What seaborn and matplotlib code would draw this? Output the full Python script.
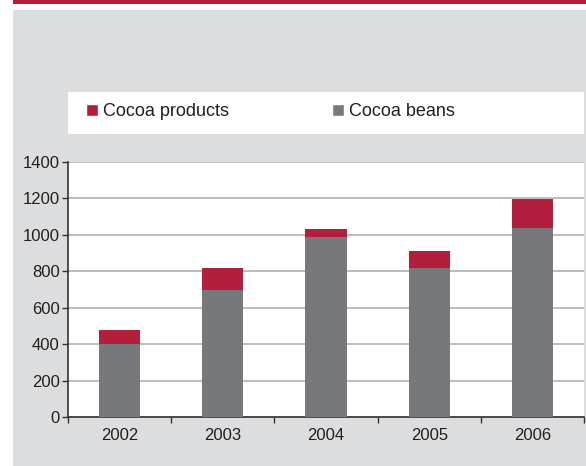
import matplotlib.pyplot as plt
from matplotlib.patches import Rectangle, Patch
from matplotlib import font_manager
import numpy as np
import pandas as pd
import seaborn as sns

years = ['2002', '2003', '2004', '2005', '2006']
cocoa_beans = [400, 700, 990, 820, 1040]
cocoa_products = [80, 120, 40, 90, 155]
yticks = [0, 200, 400, 600, 800, 1000, 1200, 1400]

RED = '#B21E3B'
GREY = '#77787B'
BG = '#DCDDDF'

names = {f.name for f in font_manager.fontManager.ttflist}
narrow = 'Liberation Sans Narrow' if 'Liberation Sans Narrow' in names else 'Liberation Sans'

sns.set_style('ticks')
plt.rcParams['font.family'] = ['Liberation Sans', 'DejaVu Sans']

df = pd.DataFrame({'year': years, 'beans': cocoa_beans, 'products': cocoa_products})
df['total'] = df['beans'] + df['products']

fig = plt.figure(figsize=(5.86, 4.66), dpi=100)
fig.patch.set_facecolor('white')
W, H = 586, 466
# grey panel and red top rule
fig.patches.append(Rectangle((13 / W, 0), 1 - 13 / W, (H - 10) / H, transform=fig.transFigure,
                             facecolor=BG, edgecolor='none', zorder=-2))
fig.patches.append(Rectangle((13 / W, (H - 3.5) / H), 1 - 13 / W, 3.5 / H, transform=fig.transFigure,
                             facecolor=RED, edgecolor='none', zorder=-2))
# white legend band
fig.patches.append(Rectangle((68 / W, (H - 134) / H), (584 - 68) / W, 42 / H, transform=fig.transFigure,
                             facecolor='white', edgecolor='none', zorder=-1))

ax = fig.add_axes([68 / W, (H - 417) / H, (584 - 68) / W, (417 - 162) / H])
ax.set_zorder(2)
ax.set_facecolor('white')
sns.barplot(data=df, x='year', y='total', color=RED, width=0.4, saturation=1, ax=ax, zorder=3)
sns.barplot(data=df, x='year', y='beans', color=GREY, width=0.4, saturation=1, ax=ax, zorder=3)
for p in ax.patches:
    p.set_edgecolor('none')

ax.set_xlim(-0.5, 4.5)
ax.set_ylim(0, 1400)
ax.set_yticks(yticks)
ax.yaxis.grid(True, color='#BDBDBD', linewidth=1.4, zorder=0)
ax.set_axisbelow(True)
ax.set_xticks(np.arange(-0.5, 5, 1), minor=False)
ax.set_xticklabels([])
ax.set_xticks(range(len(years)), minor=True)
ax.set_xticklabels(years, minor=True)
ax.tick_params(axis='x', which='minor', length=0, pad=8, labelsize=12, colors='#231F20')
ax.tick_params(axis='x', which='major', length=4, width=1, color='#333333', direction='out')
ax.tick_params(axis='y', length=4, width=1, color='#333333', labelsize=12, labelcolor='#231F20', pad=2)
ax.set_xlabel('')
ax.set_ylabel('')
for s in ['top', 'right']:
    ax.spines[s].set_visible(False)
for s in ['left', 'bottom']:
    ax.spines[s].set_color('#333333')
    ax.spines[s].set_linewidth(1.2)

handles = [Patch(facecolor=RED, label='Cocoa products'), Patch(facecolor=GREY, label='Cocoa beans')]
leg = fig.legend(handles=handles, loc='center left', bbox_to_anchor=(86 / W, (H - 112) / H), ncol=2,
                 frameon=False, prop={'family': narrow, 'size': 13}, handlelength=0.65, handleheight=0.65,
                 handletextpad=0.3, columnspacing=5.7, borderaxespad=0, borderpad=0)
for t in leg.get_texts():
    t.set_color('#231F20')

fig.savefig('out.png', dpi=100, facecolor=fig.get_facecolor())
